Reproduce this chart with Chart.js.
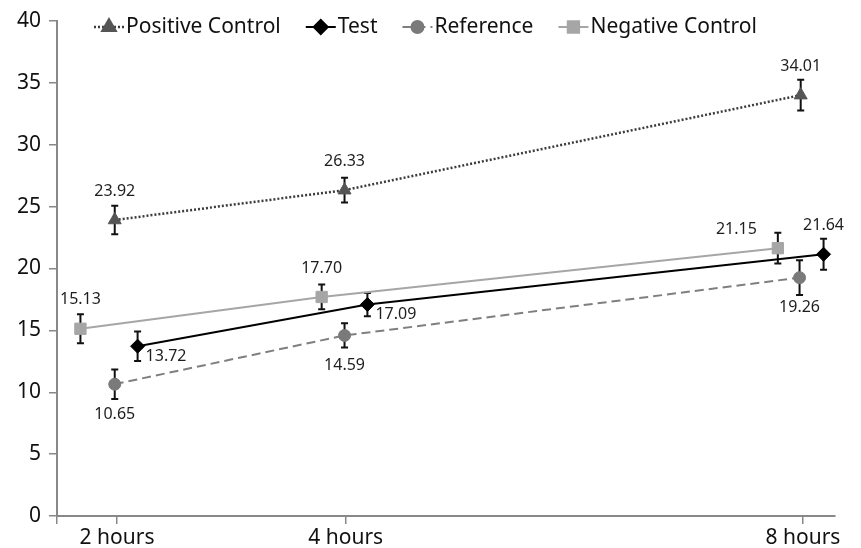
<!DOCTYPE html>
<html>
<head>
<meta charset="utf-8">
<script src="https://cdn.jsdelivr.net/npm/chart.js@4.4.0/dist/chart.umd.min.js"></script>
<style>
    body { margin: 0; background: #fff; }
    #wrap { width: 861px; height: 548px; }
</style>
</head>
<body>
<div id="wrap"><canvas id="timeChart"></canvas></div>
<script>
const hours = [2, 4, 8];
const hourLabels = ['2 hours', '4 hours', '8 hours'];
const yMin = 0;
const yMax = 40;
const yStep = 5;

const positiveValues = [23.92, 26.33, 34.01];
const positiveErrors = [1.15, 1.0, 1.25];
const positiveLabels = ['23.92', '26.33', '34.01'];

const testValues = [13.72, 17.09, 21.15];
const testErrors = [1.19, 0.94, 1.25];
const testLabels = ['13.72', '17.09', '21.64'];

const referenceValues = [10.65, 14.59, 19.26];
const referenceErrors = [1.19, 0.98, 1.4];
const referenceLabels = ['10.65', '14.59', '19.26'];

const negativeValues = [15.13, 17.70, 21.64];
const negativeErrors = [1.17, 1.0, 1.24];
const negativeLabels = ['15.13', '17.70', '21.15'];

// small horizontal nudges (in hours) so the series don't sit on top of each other
const positiveShift = [-0.02, -0.01, -0.02];
const testShift = [0.18, 0.19, 0.18];
const referenceShift = [-0.02, -0.01, -0.03];
const negativeShift = [-0.32, -0.21, -0.22];

const FONT = '"Noto Sans", "Open Sans", sans-serif';

function toPoints(values, shift) {
    return values.map((v, i) => ({ x: hours[i] + shift[i], y: v }));
}

const errorBars = {
    id: 'errorBars',
    beforeDatasetsDraw(chart) {
        const ctx = chart.ctx;
        const yScale = chart.scales.y;
        ctx.save();
        ctx.strokeStyle = '#111';
        ctx.lineWidth = 2;
        chart.data.datasets.forEach((ds, di) => {
            const meta = chart.getDatasetMeta(di);
            meta.data.forEach((pt, i) => {
                const v = ds.data[i].y;
                const e = ds.errors[i];
                const top = yScale.getPixelForValue(v + e);
                const bottom = yScale.getPixelForValue(v - e);
                ctx.beginPath();
                ctx.moveTo(pt.x, top);
                ctx.lineTo(pt.x, bottom);
                ctx.moveTo(pt.x - 3.5, top);
                ctx.lineTo(pt.x + 3.5, top);
                ctx.moveTo(pt.x - 3.5, bottom);
                ctx.lineTo(pt.x + 3.5, bottom);
                ctx.stroke();
            });
        });
        ctx.restore();
    }
};

const valueLabels = {
    id: 'valueLabels',
    afterDatasetsDraw(chart) {
        const ctx = chart.ctx;
        ctx.save();
        ctx.font = '16px ' + FONT;
        ctx.fillStyle = '#1e1e1e';
        ctx.textBaseline = 'middle';
        chart.data.datasets.forEach((ds, di) => {
            const meta = chart.getDatasetMeta(di);
            meta.data.forEach((pt, i) => {
                const pos = ds.labelPos[i];
                const txt = ds.valueText[i];
                if (pos === 'above') {
                    ctx.textAlign = 'center';
                    ctx.fillText(txt, pt.x, pt.y - 29);
                } else if (pos === 'below') {
                    ctx.textAlign = 'center';
                    ctx.fillText(txt, pt.x, pt.y + 30);
                } else if (pos === 'right') {
                    ctx.textAlign = 'left';
                    ctx.fillText(txt, pt.x + 8, pt.y + 10);
                } else if (pos === 'aboveLeft') {
                    ctx.textAlign = 'right';
                    ctx.fillText(txt, pt.x - 21, pt.y - 19);
                }
            });
        });
        ctx.restore();
    }
};

const topLegend = {
    id: 'topLegend',
    afterDraw(chart) {
        const ctx = chart.ctx;
        const y = 27;
        let x = 94;
        ctx.save();
        ctx.font = '21px ' + FONT;
        ctx.textBaseline = 'middle';
        ctx.textAlign = 'left';
        chart.data.datasets.forEach(ds => {
            ctx.strokeStyle = ds.borderColor;
            ctx.lineWidth = ds.borderWidth;
            ctx.setLineDash(ds.borderDash || []);
            ctx.beginPath();
            ctx.moveTo(x, y);
            ctx.lineTo(x + 30, y);
            ctx.stroke();
            ctx.setLineDash([]);
            ctx.fillStyle = ds.pointBackgroundColor;
            ctx.strokeStyle = ds.pointBorderColor;
            Chart.helpers.drawPoint(ctx, {
                pointStyle: ds.pointStyle,
                radius: ds.pointRadius,
                rotation: 0,
                borderWidth: 1
            }, x + 15, y);
            ctx.fillStyle = '#111';
            ctx.fillText(ds.label, x + 32, y);
            x += 32 + ctx.measureText(ds.label).width + 25;
        });
        ctx.restore();
    }
};

const ctx = document.getElementById('timeChart').getContext('2d');
const timeChart = new Chart(ctx, {
    type: 'line',
    data: {
        datasets: [{
            label: 'Positive Control',
            data: toPoints(positiveValues, positiveShift),
            errors: positiveErrors,
            valueText: positiveLabels,
            labelPos: ['above', 'above', 'above'],
            borderColor: '#3c3c3c',
            borderWidth: 2.5,
            borderDash: [2, 2],
            pointStyle: 'triangle',
            pointRadius: 7.5,
            pointBackgroundColor: '#555',
            pointBorderColor: '#555',
            pointBorderWidth: 1
        }, {
            label: 'Test',
            data: toPoints(testValues, testShift),
            errors: testErrors,
            valueText: testLabels,
            labelPos: ['right', 'right', 'above'],
            borderColor: '#000',
            borderWidth: 2,
            pointStyle: 'rectRot',
            pointRadius: 7,
            pointBackgroundColor: '#000',
            pointBorderColor: '#000',
            pointBorderWidth: 1
        }, {
            label: 'Reference',
            data: toPoints(referenceValues, referenceShift),
            errors: referenceErrors,
            valueText: referenceLabels,
            labelPos: ['below', 'below', 'below'],
            borderColor: '#7f7f7f',
            borderWidth: 2,
            borderDash: [9, 5],
            pointStyle: 'circle',
            pointRadius: 6,
            pointBackgroundColor: '#7a7a7a',
            pointBorderColor: '#7a7a7a',
            pointBorderWidth: 1
        }, {
            label: 'Negative Control',
            data: toPoints(negativeValues, negativeShift),
            errors: negativeErrors,
            valueText: negativeLabels,
            labelPos: ['above', 'above', 'aboveLeft'],
            borderColor: '#a6a6a6',
            borderWidth: 2,
            pointStyle: 'rect',
            pointRadius: 8,
            pointBackgroundColor: '#a6a6a6',
            pointBorderColor: '#a6a6a6',
            pointBorderWidth: 1
        }]
    },
    options: {
        responsive: true,
        maintainAspectRatio: false,
        animation: false,
        layout: {
            padding: { top: 21, right: 26, left: 0, bottom: 0 }
        },
        elements: {
            line: { tension: 0 }
        },
        plugins: {
            legend: { display: false },
            tooltip: { enabled: false }
        },
        scales: {
            x: {
                type: 'linear',
                min: 1.475,
                max: 8.28,
                afterBuildTicks: scale => {
                    scale.ticks = [scale.min, ...hours].map(v => ({ value: v }));
                },
                afterFit: scale => { scale.height = 32; },
                ticks: {
                    autoSkip: false,
                    maxRotation: 0,
                    padding: 1,
                    color: '#111',
                    font: { family: FONT, size: 21 },
                    callback: value => {
                        const i = hours.indexOf(value);
                        return i >= 0 ? hourLabels[i] : '';
                    }
                },
                grid: {
                    drawOnChartArea: false,
                    drawTicks: true,
                    tickLength: 8,
                    color: '#888',
                    lineWidth: 1.5
                },
                border: { color: '#888', width: 2 }
            },
            y: {
                min: yMin,
                max: yMax,
                afterFit: scale => { scale.width = 57; },
                ticks: {
                    stepSize: yStep,
                    padding: 8,
                    color: '#111',
                    font: { family: FONT, size: 21 }
                },
                grid: {
                    drawOnChartArea: false,
                    drawTicks: true,
                    tickLength: 8,
                    color: '#888',
                    lineWidth: 1.5
                },
                border: { color: '#888', width: 2 }
            }
        }
    },
    plugins: [errorBars, valueLabels, topLegend]
});
</script>
</body>
</html>
